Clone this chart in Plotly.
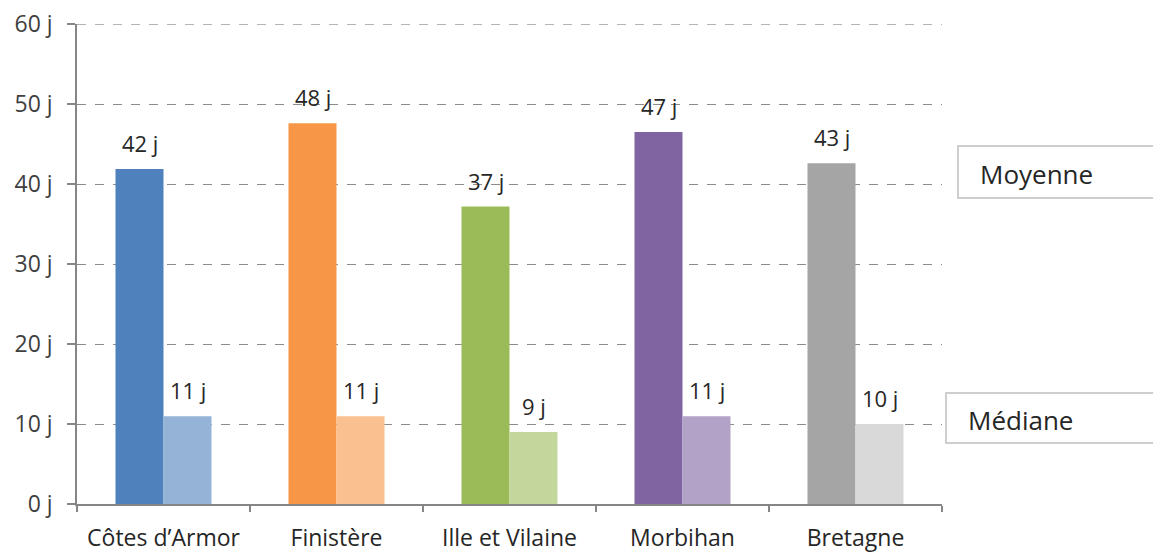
import plotly.graph_objects as go

categories = ["Côtes d’Armor", "Finistère", "Ille et Vilaine", "Morbihan", "Bretagne"]
moyenne = [41.9, 47.6, 37.2, 46.5, 42.6]
mediane = [10.97, 10.97, 9.0, 10.97, 10.0]
moyenne_labels = ["42 j", "48 j", "37 j", "47 j", "43 j"]
mediane_labels = ["11 j", "11 j", "9 j", "11 j", "10 j"]
y_ticks = [0, 10, 20, 30, 40, 50, 60]
y_tick_labels = [f"{v} j" for v in y_ticks]

colors_moy = ["#4f81bd", "#f79646", "#9bbb59", "#8064a2", "#a5a5a5"]
colors_med = ["#95b3d7", "#fac090", "#c3d69b", "#b3a2c7", "#d9d9d9"]

FONT = "Open Sans"
TXT = "#262626"
FS = 23

fig = go.Figure()
fig.add_trace(go.Bar(x=categories, y=moyenne, name="Moyenne",
                     marker=dict(color=colors_moy, line=dict(width=0))))
fig.add_trace(go.Bar(x=categories, y=mediane, name="Médiane",
                     marker=dict(color=colors_med, line=dict(width=0))))

annotations = []
for cat, v, t in zip(categories, moyenne, moyenne_labels):
    annotations.append(dict(x=cat, y=v, text=t, showarrow=False, xref="x", yref="y",
                            xshift=-24, yshift=26, font=dict(family=FONT, size=FS - 1, color=TXT)))
for cat, v, t in zip(categories, mediane, mediane_labels):
    annotations.append(dict(x=cat, y=v, text=t, showarrow=False, xref="x", yref="y",
                            xshift=24, yshift=26, font=dict(family=FONT, size=FS - 1, color=TXT)))

# legend-like boxes
annotations.append(dict(x=1.0416, y=0.6875, xref="paper", yref="paper", text="Moyenne",
                        showarrow=False, xanchor="left", yanchor="middle",
                        font=dict(family=FONT, size=26, color=TXT)))
annotations.append(dict(x=1.0277, y=0.175, xref="paper", yref="paper", text="Médiane",
                        showarrow=False, xanchor="left", yanchor="middle",
                        font=dict(family=FONT, size=26, color=TXT)))

shapes = [
    dict(type="rect", xref="paper", yref="paper", x0=1.0185, x1=1.26, y0=0.6375, y1=0.746,
         line=dict(color="#bfbfbf", width=1.5), fillcolor="white", layer="below"),
    dict(type="rect", xref="paper", yref="paper", x0=1.0046, x1=1.26, y0=0.127, y1=0.231,
         line=dict(color="#bfbfbf", width=1.5), fillcolor="white", layer="below"),
    # top gridline (plotly drops the gridline lying on the plot edge)
    dict(type="line", xref="paper", yref="y", x0=0, x1=1, y0=y_ticks[-1], y1=y_ticks[-1],
         line=dict(color="#8c8c8c", width=1, dash="dash"), layer="below"),
]

# page body has an 8px margin: shift margins accordingly
fig.update_layout(
    width=1153, height=545,
    margin=dict(l=69, r=219, t=16, b=49),
    paper_bgcolor="white", plot_bgcolor="white",
    barmode="group", bargap=0.445, bargroupgap=0,
    showlegend=False,
    annotations=annotations,
    shapes=shapes,
    font=dict(family=FONT, size=FS, color=TXT),
)
fig.update_xaxes(
    type="category", tickson="boundaries", ticks="outside", ticklen=6, tickwidth=1.5,
    tickcolor="#868686", showline=True, linecolor="#868686", linewidth=1.5,
    showgrid=False, ticklabelstandoff=13, automargin=False, ticklabeloverflow="allow",
    tickfont=dict(family=FONT, size=FS, color=TXT),
)
fig.update_yaxes(
    range=[0, 60.02], tickvals=y_ticks, ticktext=y_tick_labels,
    ticks="outside", ticklen=8, tickwidth=1.5, tickcolor="#868686",
    showline=True, linecolor="#868686", linewidth=1.5,
    showgrid=True, gridcolor="#8c8c8c", griddash="dash", gridwidth=1,
    zeroline=False, ticklabelstandoff=10, automargin=False, ticklabeloverflow="allow",
    tickfont=dict(family=FONT, size=FS, color="#404040"),
)

fig.write_html("out.html")
